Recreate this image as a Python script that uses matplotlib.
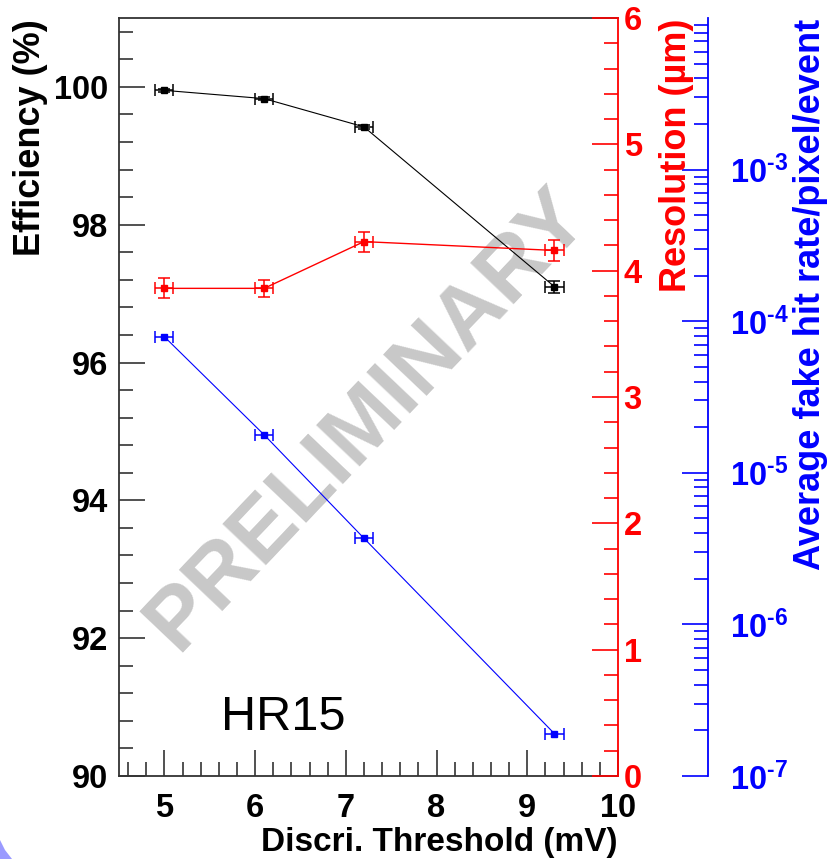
import numpy as np
import matplotlib
matplotlib.use("Agg")
import matplotlib.pyplot as plt
from matplotlib.ticker import FixedLocator, MultipleLocator, FixedFormatter, NullFormatter
from matplotlib.patches import Polygon

plt.rcParams['font.family'] = ['Liberation Sans', 'DejaVu Sans']
plt.rcParams['font.weight'] = 'bold'
plt.rcParams['mathtext.fontset'] = 'custom'
plt.rcParams['mathtext.rm'] = 'Liberation Sans:bold'
plt.rcParams['mathtext.it'] = 'Liberation Sans:bold'
plt.rcParams['mathtext.bf'] = 'Liberation Sans:bold'

# discriminator threshold scan, HR15 sensor
threshold = [5.0, 6.1, 7.2, 9.3]
threshold_err = [0.1, 0.1, 0.1, 0.1]
efficiency = [99.95, 99.83, 99.42, 97.10]
efficiency_err = [0.02, 0.02, 0.03, 0.09]
resolution = [3.86, 3.86, 4.23, 4.16]
resolution_err = [0.08, 0.07, 0.08, 0.08]
fake_rate = [7.9e-5, 1.78e-5, 3.7e-6, 1.9e-7]

log_ticks = [1e-7, 1e-6, 1e-5, 1e-4, 1e-3]
log_labels = [r'$10^{\text{-}7}$', r'$10^{\text{-}6}$', r'$10^{\text{-}5}$',
              r'$10^{\text{-}4}$', r'$10^{\text{-}3}$']

W, H = 828, 859
fig = plt.figure(figsize=(W / 100, H / 100), dpi=100)
x0, x1, ytop, ybot = 119, 618, 18, 776
ax = fig.add_axes([x0 / W, (H - ybot) / H, (x1 - x0) / W, (ybot - ytop) / H])
ax.set_facecolor('none')

frame = '#333333'
tick_size = 23.5
title_size = 26

# efficiency (left axis)
ax.set_xlim(4.5, 10)
ax.set_ylim(90, 101)
ax.plot(threshold, efficiency, color='black', lw=0.8, zorder=3)
ax.errorbar(threshold, efficiency, xerr=threshold_err, yerr=efficiency_err,
            fmt='s', color='black', ms=5, elinewidth=1.1, capsize=4,
            capthick=1.1, zorder=4)
ax.xaxis.set_major_locator(MultipleLocator(1))
ax.xaxis.set_minor_locator(MultipleLocator(0.2))
ax.yaxis.set_major_locator(MultipleLocator(2))
ax.yaxis.set_minor_locator(MultipleLocator(0.4))
ax.tick_params(which='both', direction='in', top=False, right=False,
               color=frame, width=1.2, labelsize=tick_size)
ax.tick_params(which='major', length=19)
ax.tick_params(which='minor', length=10)
ax.tick_params(axis='y', pad=8)
ax.tick_params(axis='x', pad=12)
for s in ['left', 'bottom', 'top']:
    ax.spines[s].set_color(frame)
    ax.spines[s].set_linewidth(1.3)
ax.spines['right'].set_visible(False)

ax.text(0.497, 0.47, 'PRELIMINARY', transform=ax.transAxes, rotation=46.5,
        ha='center', va='center', fontsize=63, color='#c8c8c8',
        fontweight='bold', zorder=0)
ax.text(5.62, 90.67, 'HR15', fontsize=35, fontweight='normal',
        va='baseline', ha='left', zorder=3)

# resolution (red right axis)
ax_r = ax.twinx()
ax_r.set_ylim(0, 6)
ax_r.plot(threshold, resolution, color='red', lw=1.0, zorder=3)
ax_r.errorbar(threshold, resolution, xerr=threshold_err, yerr=resolution_err,
              fmt='s', color='red', ms=5, elinewidth=1.1, capsize=4,
              capthick=1.1, zorder=4)
ax_r.yaxis.set_major_locator(MultipleLocator(1))
ax_r.yaxis.set_minor_locator(MultipleLocator(0.2))
ax_r.tick_params(which='both', direction='in', color='red', width=1.2,
                 labelcolor='red', labelsize=tick_size, pad=4)
ax_r.tick_params(which='major', length=19)
ax_r.tick_params(which='minor', length=10)
for s in ['left', 'bottom', 'top']:
    ax_r.spines[s].set_visible(False)
ax_r.spines['right'].set_color('red')
ax_r.spines['right'].set_linewidth(1.3)

# fake hit rate (blue log axis)
ax_b = ax.twinx()
ax_b.set_yscale('log')
ax_b.set_ylim(1e-7, 1e-2)
ax_b.plot(threshold, fake_rate, color='blue', lw=0.8, zorder=3)
ax_b.errorbar(threshold, fake_rate, xerr=threshold_err, fmt='s',
              color='blue', ms=5, elinewidth=1.1, capsize=4, capthick=1.1,
              zorder=4)
ax_b.spines['right'].set_position(('axes', 1 + (708 - x1) / (x1 - x0)))
for s in ['left', 'bottom', 'top']:
    ax_b.spines[s].set_visible(False)
ax_b.spines['right'].set_color('blue')
ax_b.spines['right'].set_linewidth(1.3)
ax_b.yaxis.set_major_locator(FixedLocator(log_ticks))
ax_b.yaxis.set_major_formatter(FixedFormatter(log_labels))
minor = [m * 10.0 ** e for e in range(-7, -2) for m in range(2, 10)]
ax_b.yaxis.set_minor_locator(FixedLocator(minor))
ax_b.yaxis.set_minor_formatter(NullFormatter())
ax_b.tick_params(which='both', direction='in', color='blue', width=1.2,
                 labelcolor='blue', labelsize=tick_size, pad=16)
ax_b.tick_params(which='major', length=19)
ax_b.tick_params(which='minor', length=10)

# axis titles
fig.text(31 / W, 1 - 19 / H, 'Efficiency (%)', rotation=90, ha='center',
         va='top', fontsize=title_size, color='black')
fig.text(677 / W, 1 - 19 / H, 'Resolution (\u00b5m)', rotation=90,
         ha='center', va='top', fontsize=title_size, color='red')
fig.text(811 / W, 1 - 19 / H, 'Average fake hit rate/pixel/event',
         rotation=90, ha='center', va='top', fontsize=title_size,
         color='blue')
fig.text(x1 / W, 1 - 851 / H, 'Discri. Threshold (mV)', ha='right',
         va='baseline', fontsize=24, color='black')

# corner of the slide background
fig.patches.append(Polygon([(0, 0), (0, 19 / H), (5 / W, 9 / H), (12 / W, 0)],
                           closed=True, transform=fig.transFigure,
                           facecolor='#9a9aff', edgecolor='none'))

fig.savefig('out.png', dpi=100)
